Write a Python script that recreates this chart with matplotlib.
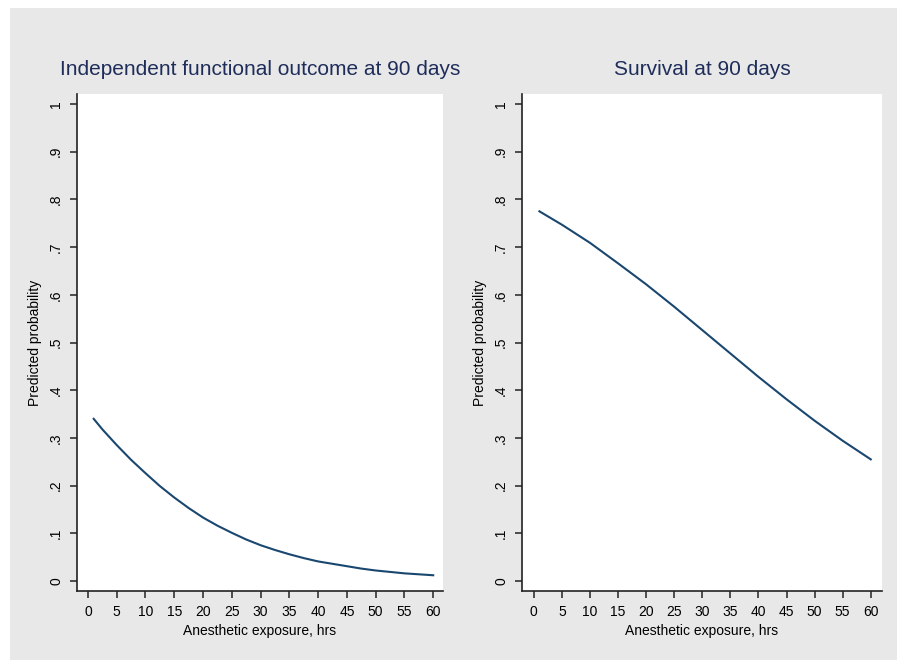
import numpy as np
import matplotlib
matplotlib.use("Agg")
import matplotlib.pyplot as plt
from matplotlib.patches import Rectangle

# values
hours_func = [1, 2.5, 5, 7.5, 10, 12.5, 15, 17.5, 20, 22.5, 25, 27.5, 30,
              32.5, 35, 37.5, 40, 42.5, 45, 47.5, 50, 52.5, 55, 57.5, 60]
prob_func = [0.340, 0.318, 0.285, 0.254, 0.226, 0.199, 0.175, 0.153, 0.133,
             0.116, 0.101, 0.087, 0.075, 0.065, 0.056, 0.048, 0.041, 0.036,
             0.031, 0.026, 0.022, 0.019, 0.016, 0.014, 0.012]

hours_surv = [1, 5, 10, 15, 20, 25, 30, 35, 40, 45, 50, 55, 60]
prob_surv = [0.775, 0.747, 0.709, 0.666, 0.622, 0.575, 0.526, 0.477, 0.428,
             0.381, 0.336, 0.294, 0.255]

titles = ["Independent functional outcome at 90 days", "Survival at 90 days"]
x_ticks = list(range(0, 61, 5))
y_ticks = [i / 10 for i in range(11)]
y_ticklabels = ["0", ".1", ".2", ".3", ".4", ".5", ".6", ".7", ".8", ".9", "1"]

plt.rcParams["font.family"] = ["Liberation Sans", "DejaVu Sans"]

BG = "#e8e8e8"
LINE = "#1a476f"
TITLE = "#1e2d5a"

fig = plt.figure(figsize=(8.97, 6.6), dpi=100)
fig.patch.set_facecolor("white")
fig.patches.append(Rectangle((10 / 897, 0), 1, 1 - 8 / 660,
                             transform=fig.transFigure, facecolor=BG,
                             edgecolor="none", zorder=-10))

positions = [
    [77 / 897, 1 - 591 / 660, 366 / 897, 497 / 660],
    [522 / 897, 1 - 591 / 660, 360 / 897, 497 / 660],
]
xlims = [(-1.9, 61.7), (-2.1, 62.0)]
series = [(hours_func, prob_func), (hours_surv, prob_surv)]

for pos, xl, (xs, ys), title in zip(positions, xlims, series, titles):
    ax = fig.add_axes(pos)
    ax.set_facecolor("white")
    ax.plot(xs, ys, color=LINE, linewidth=1.5)
    ax.set_xlim(*xl)
    ax.set_ylim(-0.021, 1.021)
    ax.set_xticks(x_ticks)
    ax.set_yticks(y_ticks)
    ax.set_yticklabels(y_ticklabels, rotation=90, va="center")
    for side in ["top", "right"]:
        ax.spines[side].set_visible(False)
    for side in ["left", "bottom"]:
        ax.spines[side].set_linewidth(1.2)
        ax.spines[side].set_color("#222222")
    ax.tick_params(direction="out", length=5, width=1.1, color="#222222",
                   labelsize=10, pad=5)
    ax.set_xlabel("Anesthetic exposure, hrs", fontsize=10, labelpad=4)
    ax.set_ylabel("Predicted probability", fontsize=10, labelpad=5)
    ax.set_title(title, fontsize=15, color=TITLE, pad=14)

plt.savefig("out.png", dpi=100, facecolor=fig.get_facecolor())
plt.close()
